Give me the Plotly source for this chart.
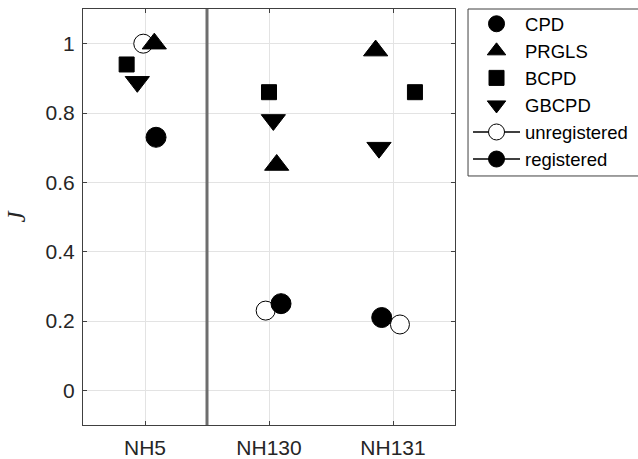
import plotly.graph_objects as go

# ---- data ----
categories = ["NH5", "NH130", "NH131"]
cat_pos = [1, 2, 3]

cpd = [0.73, 0.25, 0.21]
prgls = [1.00, 0.65, 0.98]
bcpd = [0.94, 0.86, 0.86]
gbcpd = [0.89, 0.78, 0.70]
unregistered = [1.00, 0.23, 0.19]

# horizontal jitter of each series within a category (data units)
cpd_dx = [0.089, 0.097, -0.091]
prgls_dx = [0.075, 0.062, -0.14]
bcpd_dx = [-0.148, 0.0, 0.177]
gbcpd_dx = [-0.062, 0.035, -0.113]
unreg_dx = [-0.014, -0.027, 0.056]

yticks = [0, 0.2, 0.4, 0.6, 0.8, 1]
separator_after = 0  # index of category after which the vertical divider sits

FONT = "Liberation Sans, Arial, Helvetica, sans-serif"
AX = "#404040"


def xs(dx):
    return [p + d for p, d in zip(cat_pos, dx)]


def gapped(vals):
    out = []
    for i, v in enumerate(vals):
        if i:
            out.append(None)
        out.append(v)
    return out


fig = go.Figure()

# unregistered (open circles) - drawn first, listed 5th
fig.add_trace(go.Scatter(
    x=gapped(xs(unreg_dx)), y=gapped(unregistered), mode="lines+markers",
    name="unregistered", legendrank=5, connectgaps=False,
    line=dict(color="black", width=1.5),
    marker=dict(symbol="circle", size=19, color="white",
                line=dict(color="black", width=1)),
))

fig.add_trace(go.Scatter(
    x=xs(cpd_dx), y=cpd, mode="markers", name="CPD", legendrank=1,
    marker=dict(symbol="circle", size=20, color="black",
                line=dict(color="black", width=1)),
))
fig.add_trace(go.Scatter(
    x=xs(prgls_dx), y=prgls, mode="markers", name="PRGLS", legendrank=2,
    marker=dict(symbol="triangle-up", size=21, color="black",
                line=dict(color="black", width=1)),
))
fig.add_trace(go.Scatter(
    x=xs(bcpd_dx), y=bcpd, mode="markers", name="BCPD", legendrank=3,
    marker=dict(symbol="square", size=15, color="black",
                line=dict(color="black", width=1)),
))
fig.add_trace(go.Scatter(
    x=xs(gbcpd_dx), y=gbcpd, mode="markers", name="GBCPD", legendrank=4,
    marker=dict(symbol="triangle-down", size=21, color="black",
                line=dict(color="black", width=1)),
))
# registered: legend key only (filled marker with line)
fig.add_trace(go.Scatter(
    x=[None], y=[None], mode="lines+markers", name="registered", legendrank=6,
    line=dict(color="black", width=1.5),
    marker=dict(symbol="circle", size=19, color="black",
                line=dict(color="black", width=1)),
))

sep_x = cat_pos[separator_after] + 0.5
fig.add_shape(type="line", xref="x", yref="paper", x0=sep_x, x1=sep_x,
              y0=0, y1=1, line=dict(color="#6e6e6e", width=3), layer="above")

# legend frame (drawn as a layout rectangle so it can be tightened)
fig.add_shape(type="rect", xref="paper", yref="paper",
              x0=1.035, x1=1.6, y0=0.5986, y1=1.0,
              line=dict(color=AX, width=1), fillcolor="white", layer="below")

fig.update_layout(
    width=638, height=459,
    margin=dict(l=83, r=183, t=9, b=34, autoexpand=False),
    paper_bgcolor="white", plot_bgcolor="white",
    font=dict(family=FONT, size=21, color="#262626"),
    showlegend=True,
    legend=dict(
        x=1.035, y=1.009, xanchor="left", yanchor="top",
        borderwidth=0, bgcolor="rgba(0,0,0,0)",
        font=dict(family=FONT, size=18.5, color="black"),
        itemwidth=47, tracegroupgap=0,
    ),
)
fig.update_xaxes(
    range=[0.5, 3.5], tickvals=cat_pos, ticktext=categories,
    showgrid=True, gridcolor="#e3e3e3", gridwidth=1,
    showline=True, linecolor=AX, linewidth=1, mirror="ticks",
    ticks="inside", ticklen=4, tickcolor=AX, zeroline=False,
    automargin=False, ticklabelstandoff=4,
)
fig.update_yaxes(
    range=[-0.1, 1.1], tickvals=yticks, ticktext=[f"{v:g}" for v in yticks],
    showgrid=True, gridcolor="#e3e3e3", gridwidth=1,
    showline=True, linecolor=AX, linewidth=1, mirror="ticks",
    ticks="inside", ticklen=4, tickcolor=AX, zeroline=False,
    automargin=False, ticklabelstandoff=3,
    title=dict(text="<i>J</i>", font=dict(family="Liberation Serif, Times New Roman, serif",
                                          size=25, color="#262626"), standoff=12),
)

fig.write_html("out.html", config={"displayModeBar": False},
               post_script="document.body.style.margin='0';")
